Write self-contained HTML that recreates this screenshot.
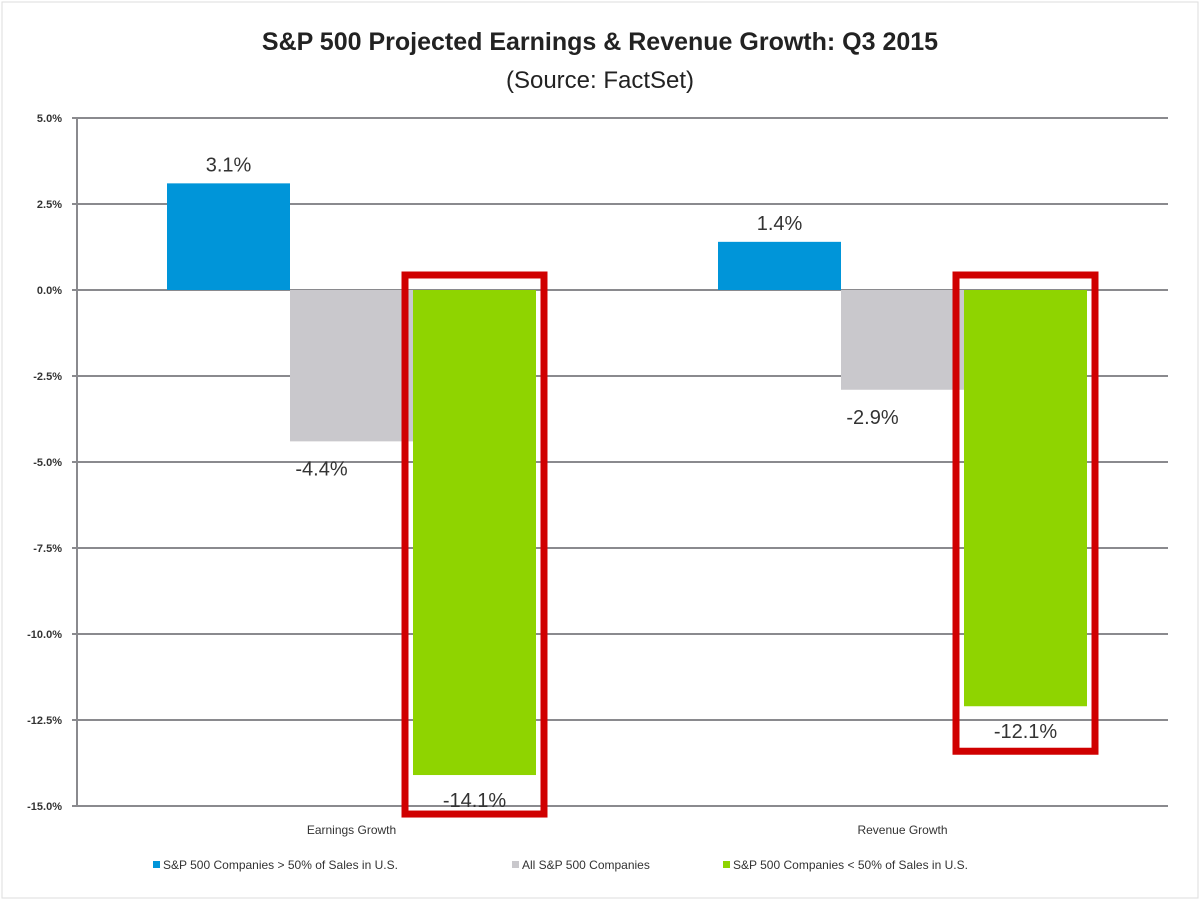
<!DOCTYPE html>
<html><head><meta charset="utf-8"><style>
body{margin:0;background:#fff;width:1200px;height:900px;overflow:hidden;font-family:"Liberation Sans",sans-serif}
svg text{font-family:"Liberation Sans",sans-serif}
</style></head><body>
<svg id="c" width="1200" height="900">
<rect x="2" y="2" width="1196" height="896" fill="none" stroke="#ddd" stroke-width="1"/>
<text x="600" y="50" text-anchor="middle" font-size="25" font-weight="bold" fill="#222">S&amp;P 500 Projected Earnings &amp; Revenue Growth: Q3 2015</text>
<text x="600" y="88" text-anchor="middle" font-size="24" fill="#222">(Source: FactSet)</text>
<g id="grid"></g><g id="bars"></g><g id="labels"></g>
</svg>
<script>
const categories=["Earnings Growth","Revenue Growth"];
const seriesNames=["S&P 500 Companies > 50% of Sales in U.S.","All S&P 500 Companies","S&P 500 Companies < 50% of Sales in U.S."];
const seriesColors=["#0095d9","#c9c8cc","#8fd400"];
const aboveUS=[3.1,1.4];
const allSP=[-4.4,-2.9];
const belowUS=[-14.1,-12.1];
const ticks=[5,2.5,0,-2.5,-5,-7.5,-10,-12.5,-15];
const series=[aboveUS,allSP,belowUS];
const NS="http://www.w3.org/2000/svg";
const y=v=>290-(v/2.5)*86;
const groupX=[167,718], barW=123;
const x=(g,s)=>groupX[g]+s*barW;
function mk(tag,attrs,parent){const e=document.createElementNS(NS,tag);for(const k in attrs)e.setAttribute(k,attrs[k]);parent.appendChild(e);return e;}
const grid=document.getElementById('grid'),bars=document.getElementById('bars'),labels=document.getElementById('labels');
ticks.forEach(t=>{
 const l=mk('line',{x1:72,x2:1168,y1:y(t),y2:y(t),stroke:'#8a8a8e','stroke-width':2},grid);
 
 
 const tx=mk('text',{x:62,y:y(t)+4,'text-anchor':'end','font-size':11,'font-weight':'bold',fill:'#333'},grid);
 tx.textContent=t.toFixed(1)+'%';
 
 
});
const ax=mk('line',{x1:77,x2:77,y1:y(5),y2:y(-15),stroke:'#8a8a8e','stroke-width':2},grid);


series.forEach((vals,s)=>vals.forEach((v,g)=>{
 const r=mk('rect',{x:x(g,s),y:Math.min(y(0),y(v)),width:barW,height:Math.abs(y(v)-y(0)),fill:seriesColors[s]},bars);
 
 
 const lx=s===1?x(g,s)+barW/2-30:x(g,s)+barW/2;
 const ly=v>=0?y(v)-12:y(v)+(s===2?32:34);
 const t=mk('text',{x:lx,y:ly,'text-anchor':'middle','font-size':20,fill:'#333'},labels);
 t.textContent=v.toFixed(1)+'%';
 
 
}));
// highlight boxes around green bars
belowUS.forEach((v,g)=>{
 const r=mk('rect',{x:x(g,2)-8,y:y(0)-15,width:barW+16,height:y(v)-y(0)+15+(g===0?39:45),fill:'none',stroke:'#d00000','stroke-width':7},labels);
 
 
});
categories.forEach((c,g)=>{
 const t=mk('text',{x:groupX[g]+1.5*barW,y:834,'text-anchor':'middle','font-size':12,fill:'#333'},labels);
 t.textContent=c;
 
 
});
const legX=[153,512,723];
seriesNames.forEach((n,s)=>{
 const r=mk('rect',{x:legX[s],y:861,width:7,height:7,fill:seriesColors[s]},labels);
 
 
 const t=mk('text',{x:legX[s]+10,y:869,'font-size':12,fill:'#333'},labels);
 t.textContent=n;
 
 
});
</script>
</body></html>
